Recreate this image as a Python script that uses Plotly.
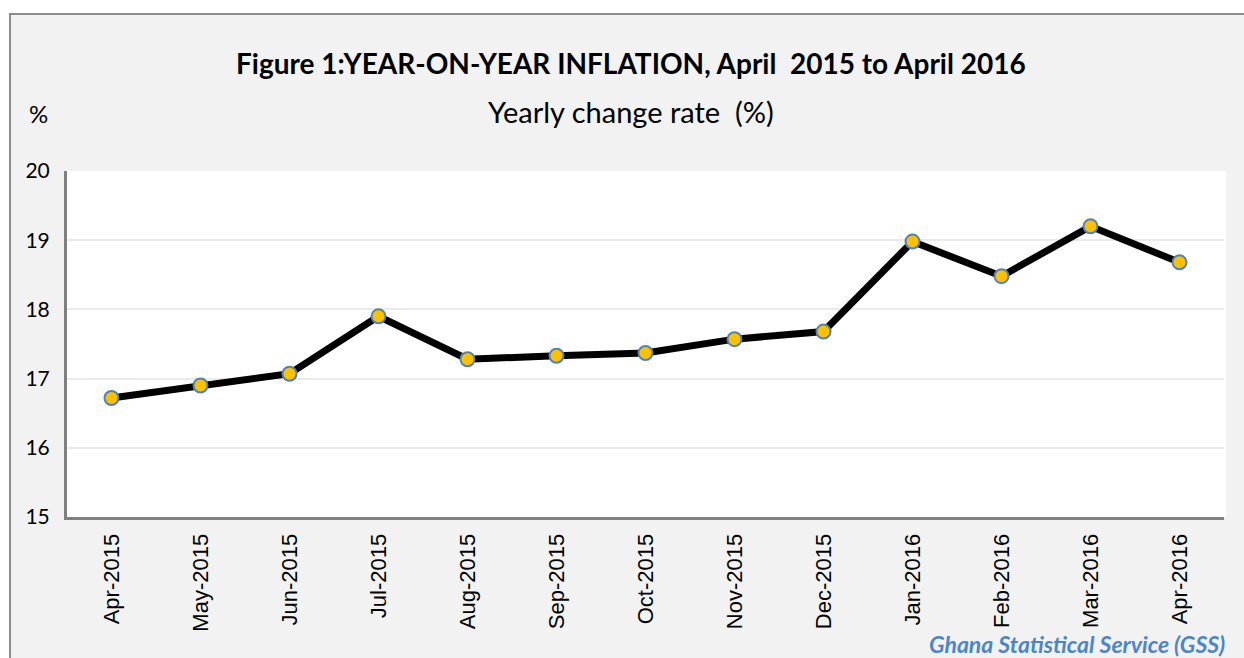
import plotly.graph_objects as go

months = ["Apr-2015", "May-2015", "Jun-2015", "Jul-2015", "Aug-2015", "Sep-2015",
          "Oct-2015", "Nov-2015", "Dec-2015", "Jan-2016", "Feb-2016", "Mar-2016", "Apr-2016"]
inflation = [16.72, 16.9, 17.07, 17.9, 17.28, 17.33, 17.37, 17.57, 17.68, 18.98, 18.48, 19.2, 18.68]
y_ticks = [15, 16, 17, 18, 19, 20]

W, H = 1244, 658
L, R, T, B = 67, 20, 171, 141
pw, ph = W - L - R, H - T - B
CAL = "Lato, Open Sans, sans-serif"

def px(x):
    return (x - L) / pw

def py(y):
    return (H - B - y) / ph

fig = go.Figure()
fig.add_trace(go.Scatter(
    x=months, y=inflation, mode="lines+markers",
    line=dict(color="black", width=7),
    marker=dict(size=14, color="#ffc000", line=dict(color="#4f81bd", width=2)),
    showlegend=False, hoverinfo="x+y"))

fig.update_layout(
    width=W, height=H,
    margin=dict(l=L, r=R, t=T, b=B),
    paper_bgcolor="white", plot_bgcolor="white",
    font=dict(family=CAL, color="black"),
    shapes=[
        dict(type="rect", xref="paper", yref="paper", layer="below",
             x0=px(10), x1=px(1260), y0=py(14), y1=py(700),
             line=dict(color="#8c8c8c", width=2), fillcolor="#f2f2f2"),
        dict(type="rect", xref="paper", yref="paper", layer="below",
             x0=0, x1=px(1226), y0=0, y1=1,
             line=dict(width=0), fillcolor="white"),
    ],
    annotations=[
        dict(text="<b>Figure 1:YEAR-ON-YEAR INFLATION, April  2015 to April 2016</b>",
             x=px(631), y=py(63), xref="paper", yref="paper", showarrow=False,
             font=dict(size=28, family=CAL), xanchor="center", yanchor="middle"),
        dict(text="Yearly change rate  (%)",
             x=px(631), y=py(111), xref="paper", yref="paper", showarrow=False,
             font=dict(size=29, family=CAL), xanchor="center", yanchor="middle"),
        dict(text="%", x=px(38), y=py(113), xref="paper", yref="paper", showarrow=False,
             font=dict(size=24, family=CAL), xanchor="center", yanchor="middle"),
        dict(text="<b><i>Ghana Statistical Service (GSS)</i></b>",
             x=px(1227), y=py(644), xref="paper", yref="paper", showarrow=False,
             font=dict(size=23, family=CAL, color="#4a86c8"),
             xanchor="right", yanchor="middle"),
    ],
)

fig.update_xaxes(
    type="category", range=[-0.5, len(months) - 0.5],
    showline=True, linecolor="#808080", linewidth=3,
    showgrid=False, ticks="", tickangle=-90, ticklabelstandoff=5,
    tickfont=dict(family="Liberation Sans, Arial", size=22, color="black"),
)
fig.update_yaxes(
    range=[15, 20], tickvals=y_ticks,
    showline=True, linecolor="#808080", linewidth=3,
    showgrid=True, gridcolor="#ebebeb", gridwidth=2,
    zeroline=False, ticks="", ticklabelstandoff=10,
    tickfont=dict(family=CAL, size=21, color="black"),
)

fig.write_html("out.html", config={"displayModeBar": False},
               post_script="document.body.style.margin='0';")
